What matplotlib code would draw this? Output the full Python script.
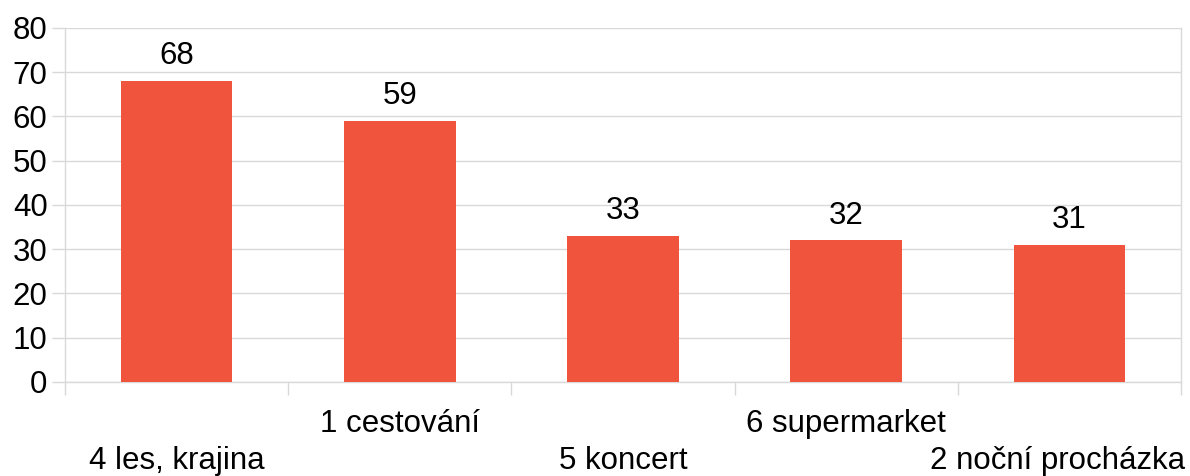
import matplotlib
matplotlib.use("Agg")
import matplotlib.pyplot as plt
import numpy as np

categories = ["4 les, krajina", "1 cestování", "5 koncert", "6 supermarket", "2 noční procházka"]
values = [68, 59, 33, 32, 31]
yticks = [0, 10, 20, 30, 40, 50, 60, 70, 80]

plt.rcParams['font.family'] = ['Liberation Sans', 'DejaVu Sans']
grid_col = '#d9d9d9'
bar_col = '#f0543c'
fs = 22.5

fig = plt.figure(figsize=(11.9, 4.76), dpi=100)
ax = fig.add_axes([0.0546, 0.1975, 0.9378, 0.7437])

x = np.arange(len(categories))
ax.bar(x, values, width=0.5, color=bar_col, zorder=3)
for xi, v in zip(x, values):
    ax.annotate(str(v), (xi, v), xytext=(0, 7), textcoords='offset points',
                ha='center', va='bottom', fontsize=fs, color='#000000')

ax.set_xlim(-0.5, len(categories) - 0.5)
ax.set_ylim(0, 80)
ax.set_yticks(yticks)
ax.tick_params(axis='y', length=9.5, width=1, color=grid_col, pad=3, labelsize=fs)
ax.yaxis.grid(True, color=grid_col, linewidth=1, zorder=0)

# category boundary ticks
ax.set_xticks([])
ax.set_xticks(np.arange(-0.5, len(categories)), minor=True)
ax.tick_params(axis='x', which='minor', length=9.5, width=1, color=grid_col, direction='out')

ax.spines['top'].set_visible(False)
for s in ['left', 'right', 'bottom']:
    ax.spines[s].set_color(grid_col)
    ax.spines[s].set_linewidth(1)

# staggered category labels, kept inside the figure
trans = ax.get_xaxis_transform()
fig.canvas.draw()
r = fig.canvas.get_renderer()
W = fig.bbox.width
for i, name in enumerate(categories):
    yy = -0.119 if i % 2 == 1 else -0.224
    t = ax.annotate(name, (i, yy), xycoords=trans, ha='center', va='center', fontsize=fs)
    bb = t.get_window_extent(r)
    shift = min(0, (W - 5) - bb.x1)
    if shift:
        t.xyann = (shift * 72 / fig.dpi, 0)
        t.set_anncoords('offset points')

fig.savefig("out.png", dpi=100)
